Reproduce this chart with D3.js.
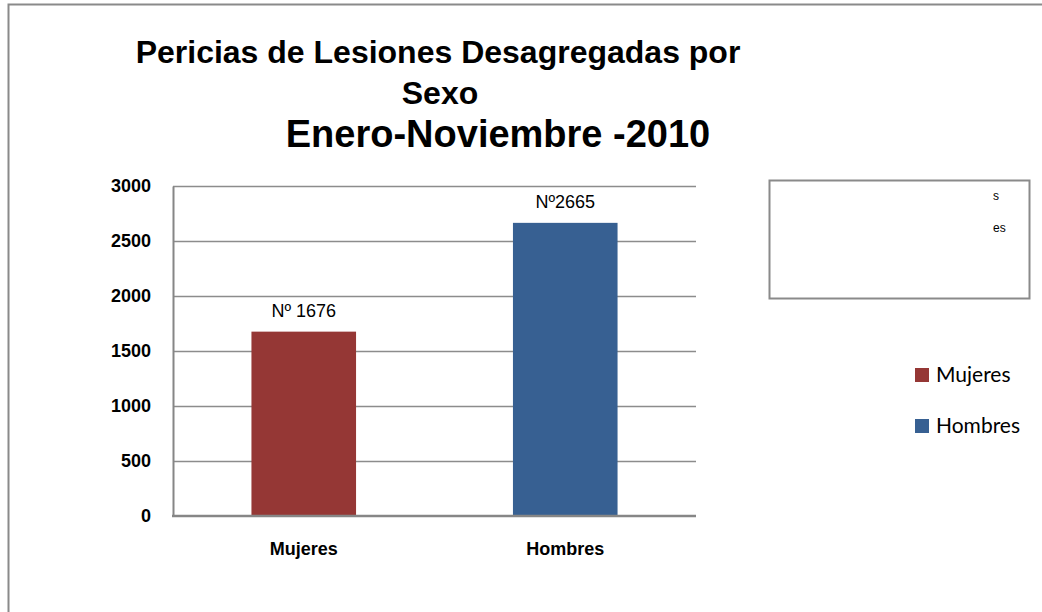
<!DOCTYPE html>
<html>
<head>
<meta charset="utf-8">
<script src="https://cdn.jsdelivr.net/npm/d3@7"></script>
<style>
  html, body { margin: 0; padding: 0; background: #fff; }
  svg { display: block; }
</style>
</head>
<body>
<div id="chart"></div>
<script>
(function () {
  const WIDTH = 1042;
  const HEIGHT = 612;

  // data
  const categories = ["Mujeres", "Hombres"];
  const values = [1676, 2665];
  const valueLabels = ["Nº 1676", "Nº2665"];
  const barColors = ["#953735", "#376092"];
  const yTicks = [0, 500, 1000, 1500, 2000, 2500, 3000];
  const titleLines = ["Pericias de Lesiones Desagregadas por", "Sexo", "Enero-Noviembre -2010"];
  const boxRemnants = ["s", "es"];

  // plot area
  const plot = { left: 173, right: 696, top: 186, bottom: 516 };

  const svg = d3.select("#chart").append("svg")
    .attr("width", WIDTH)
    .attr("height", HEIGHT);

  // outer chart border (only top + left visible in the crop)
  svg.append("path")
    .attr("d", `M8.5,${HEIGHT} L8.5,4.5 L${WIDTH},4.5`)
    .attr("fill", "none")
    .attr("stroke", "#8a8a8a")
    .attr("stroke-width", 2);

  // title
  const titleX = [438, 440, 498];
  const titleY = [63, 104, 147];
  const titleSize = [32, 32, 38];
  svg.append("g").selectAll("text")
    .data(titleLines)
    .join("text")
    .attr("x", (d, i) => titleX[i])
    .attr("y", (d, i) => titleY[i])
    .attr("text-anchor", "middle")
    .style("font-family", "'Liberation Sans', Arial, sans-serif")
    .style("font-weight", "bold")
    .style("font-size", (d, i) => titleSize[i] + "px")
    .style("fill", "#000")
    .text(d => d);

  const x = d3.scaleBand()
    .domain(categories)
    .range([plot.left, plot.right])
    .paddingInner(0.6)
    .paddingOuter(0.3);

  const y = d3.scaleLinear()
    .domain([0, 3000])
    .range([plot.bottom, plot.top]);

  // gridlines
  svg.append("g")
    .selectAll("line")
    .data(yTicks.filter(t => t > 0))
    .join("line")
    .attr("x1", plot.left)
    .attr("x2", plot.right)
    .attr("y1", d => Math.round(y(d)) + 0.5)
    .attr("y2", d => Math.round(y(d)) + 0.5)
    .attr("stroke", "#8c8c8c")
    .attr("stroke-width", 1.5);

  // y axis
  const yAxis = svg.append("g")
    .attr("transform", `translate(${plot.left},0)`)
    .call(d3.axisLeft(y).tickValues(yTicks).tickFormat(d3.format("d")).tickSize(0).tickPadding(22));
  yAxis.select(".domain")
    .attr("stroke", "#868686")
    .attr("stroke-width", 2);
  yAxis.selectAll("text")
    .style("font-family", "'Liberation Sans', Arial, sans-serif")
    .style("font-weight", "bold")
    .style("font-size", "18px")
    .style("fill", "#000");

  // bars
  svg.append("g")
    .selectAll("rect")
    .data(categories)
    .join("rect")
    .attr("x", d => x(d))
    .attr("width", x.bandwidth())
    .attr("y", (d, i) => y(values[i]))
    .attr("height", (d, i) => y(0) - y(values[i]))
    .attr("fill", (d, i) => barColors[i]);

  // x axis
  const xAxis = svg.append("g")
    .attr("transform", `translate(0,${plot.bottom})`)
    .call(d3.axisBottom(x).tickSize(0).tickPadding(26));
  xAxis.select(".domain").remove();
  xAxis.append("line")
    .attr("x1", plot.left - 1)
    .attr("x2", plot.right)
    .attr("stroke", "#868686")
    .attr("stroke-width", 2.5);
  xAxis.selectAll("text")
    .style("font-family", "'Liberation Sans', Arial, sans-serif")
    .style("font-weight", "bold")
    .style("font-size", "18px")
    .style("fill", "#000");

  // value labels
  svg.append("g")
    .selectAll("text")
    .data(categories)
    .join("text")
    .attr("x", d => x(d) + x.bandwidth() / 2)
    .attr("y", (d, i) => y(values[i]) - 15)
    .attr("text-anchor", "middle")
    .style("font-family", "'Liberation Sans', Arial, sans-serif")
    .style("font-size", "18px")
    .style("fill", "#000")
    .text((d, i) => valueLabels[i]);

  // empty legend box with clipped remnants
  svg.append("rect")
    .attr("x", 769.5)
    .attr("y", 180.5)
    .attr("width", 260)
    .attr("height", 118)
    .attr("fill", "#fff")
    .attr("stroke", "#8a8a8a")
    .attr("stroke-width", 2);
  svg.append("g").selectAll("text")
    .data(boxRemnants)
    .join("text")
    .attr("x", 993)
    .attr("y", (d, i) => 200 + i * 32)
    .style("font-family", "'Liberation Sans', Arial, sans-serif")
    .style("font-size", "12px")
    .style("fill", "#000")
    .text(d => d);

  // legend
  const legend = svg.append("g")
    .attr("transform", "translate(915,368)");
  const items = legend.selectAll("g")
    .data(categories)
    .join("g")
    .attr("transform", (d, i) => `translate(0,${i * 51})`);
  items.append("rect")
    .attr("width", 14)
    .attr("height", 14)
    .attr("fill", (d, i) => barColors[i]);
  items.append("text")
    .attr("x", 21)
    .attr("y", 14)
    .style("font-family", "Lato, 'Open Sans', sans-serif")
    .style("font-size", "21px")
    .style("fill", "#000")
    .text(d => d);
})();
</script>
</body>
</html>
